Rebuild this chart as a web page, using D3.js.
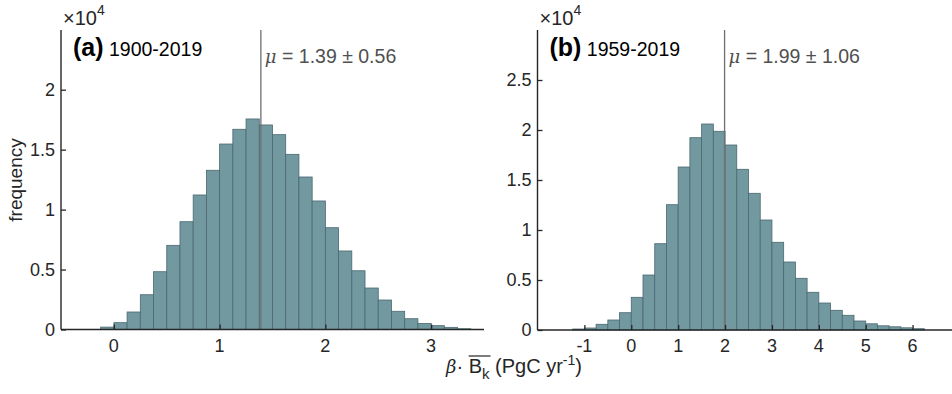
<!DOCTYPE html>
<html>
<head>
<meta charset="utf-8">
<script src="https://cdn.jsdelivr.net/npm/d3@7"></script>
<style>
  body { margin: 0; background: #fff; }
  svg { font-family: "Liberation Sans", Arial, sans-serif; }
</style>
</head>
<body>
<div id="chart"></div>
<script>
var width = 952,
    height = 394;

// panel (a) 1900-2019 : bins of 0.125 starting at -0.125
var binStartA = -0.125, binWidthA = 0.125;
var countsA = [200, 570, 1460, 2900, 4820, 7020, 8990, 11220, 13280, 15470, 16700, 17560,
               17060, 16250, 14610, 12720, 10720, 8490, 6550, 4900, 3460, 2460, 1520, 900,
               510, 320, 180, 60];
var meanA = 1.39, sdA = 0.56;

// panel (b) 1959-2019 : bins of 0.25 starting at -1.25
var binStartB = -1.25, binWidthB = 0.25;
var countsB = [100, 200, 570, 1000, 1730, 3270, 5500, 8630, 12530, 16300, 19230, 20600,
               19870, 18500, 16070, 13670, 11000, 8770, 6800, 5170, 3770, 2700, 1970, 1470,
               900, 620, 420, 320, 220, 130];
var meanB = 1.99, sdB = 1.06;

var xTicksA = [0, 1, 2, 3];
var yTicksA = [0, 5000, 10000, 15000, 20000];
var xTicksB = [-1, 0, 1, 2, 3, 4, 5, 6];
var yTicksB = [0, 5000, 10000, 15000, 20000, 25000];

var barFill = "#7298a0",
    barStroke = "#4b6870",
    axisColor = "#262626";

var svg = d3.select("#chart").append("svg")
    .attr("width", width)
    .attr("height", height);

function toBins(start, w, counts) {
  return counts.map(function(c, i) {
    return {x0: start + i * w, x1: start + (i + 1) * w, n: c};
  });
}

function panel(opts) {
  var x = d3.scaleLinear().domain(opts.xDomain).range(opts.xRange);
  var y = d3.scaleLinear().domain(opts.yDomain).range([opts.base, opts.top]);
  var g = svg.append("g");

  g.selectAll("rect.bar")
      .data(opts.bins)
    .enter().append("rect")
      .attr("class", "bar")
      .attr("x", function(d) { return x(d.x0); })
      .attr("y", function(d) { return y(d.n); })
      .attr("width", function(d) { return x(d.x1) - x(d.x0); })
      .attr("height", function(d) { return y(0) - y(d.n); })
      .attr("fill", barFill)
      .attr("stroke", barStroke)
      .attr("stroke-width", 0.8);

  // mean line
  g.append("line")
      .attr("x1", x(opts.mean)).attr("x2", x(opts.mean))
      .attr("y1", opts.top).attr("y2", opts.base)
      .attr("stroke", "#707070")
      .attr("stroke-width", 1.3);

  // axes, ticks pointing inwards like matlab
  var xAxis = d3.axisTop(x).tickValues(opts.xTicks).tickSize(5).tickFormat("");
  var gx = g.append("g")
      .attr("transform", "translate(0," + opts.base + ")")
      .call(xAxis);
  gx.select(".domain").remove();
  g.append("line")
      .attr("x1", opts.xRange[0]).attr("x2", opts.xRange[1])
      .attr("y1", opts.base).attr("y2", opts.base)
      .attr("stroke", axisColor).attr("stroke-width", 1.4);

  g.selectAll("text.xtick")
      .data(opts.xTicks)
    .enter().append("text")
      .attr("class", "xtick")
      .attr("x", function(d) { return x(d); })
      .attr("y", opts.base + 22)
      .attr("text-anchor", "middle")
      .attr("font-size", 18)
      .attr("fill", axisColor)
      .text(function(d) { return d; });

  var yAxis = d3.axisRight(y).tickValues(opts.yTicks).tickSize(5).tickFormat("");
  var gy = g.append("g")
      .attr("transform", "translate(" + opts.xRange[0] + ",0)")
      .call(yAxis);
  gy.select(".domain").remove();
  g.selectAll(".tick line").attr("stroke", axisColor).attr("stroke-width", 1.3);
  g.append("line")
      .attr("x1", opts.xRange[0]).attr("x2", opts.xRange[0])
      .attr("y1", opts.top).attr("y2", opts.base)
      .attr("stroke", axisColor).attr("stroke-width", 1.4);

  g.selectAll("text.ytick")
      .data(opts.yTicks)
    .enter().append("text")
      .attr("class", "ytick")
      .attr("x", opts.xRange[0] - 6)
      .attr("y", function(d) { return y(d); })
      .attr("dy", "0.36em")
      .attr("text-anchor", "end")
      .attr("font-size", 18)
      .attr("fill", axisColor)
      .text(function(d) { return d / 1e4; });

  // x10^4 exponent
  var ex = g.append("text")
      .attr("x", opts.xRange[0] + 2)
      .attr("y", 25)
      .attr("font-size", 20)
      .attr("fill", axisColor);
  ex.append("tspan").text("\u00d710");
  ex.append("tspan").attr("font-size", 14).attr("dy", -10).text("4");

  // panel label
  var lab = g.append("text")
      .attr("x", opts.xRange[0] + 12)
      .attr("y", 56)
      .attr("fill", "#000");
  lab.append("tspan").attr("font-weight", "bold").attr("font-size", 25).text(opts.letter);
  lab.append("tspan").attr("font-size", 19.5).text(" " + opts.period);

  // mean text
  var mt = g.append("text")
      .attr("x", x(opts.mean) + 4)
      .attr("y", 63)
      .attr("font-size", 19.5)
      .attr("fill", "#505050");
  mt.append("tspan").attr("font-style", "italic").attr("font-family", "DejaVu Serif, serif").attr("font-size", 18).text("\u03bc");
  mt.append("tspan").text(" = " + opts.mean.toFixed(2) + " \u00b1 " + opts.sd.toFixed(2));
}

panel({
  bins: toBins(binStartA, binWidthA, countsA),
  xDomain: [-0.5, 3.5], xRange: [61, 484],
  yDomain: [0, 24980], base: 329.5, top: 30,
  xTicks: xTicksA, yTicks: yTicksA,
  mean: meanA, sd: sdA, letter: "(a)", period: "1900-2019"
});

panel({
  bins: toBins(binStartB, binWidthB, countsB),
  xDomain: [-2, 7], xRange: [537.5, 959.5],
  yDomain: [0, 30000], base: 330, top: 30,
  xTicks: xTicksB, yTicks: yTicksB,
  mean: meanB, sd: sdB, letter: "(b)", period: "1959-2019"
});

// y label
svg.append("text")
    .attr("transform", "translate(22,180) rotate(-90)")
    .attr("text-anchor", "middle")
    .attr("font-size", 19)
    .attr("fill", "#262626")
    .text("frequency");

// x label : beta . overline(B_k) (PgC yr^-1)
var xl = svg.append("text")
    .attr("x", 446)
    .attr("y", 373)
    .attr("font-size", 20)
    .attr("fill", "#262626");
xl.append("tspan").attr("font-style", "italic").attr("font-family", "DejaVu Serif, serif").attr("font-size", 18).text("\u03b2");
xl.append("tspan").text("\u00b7 ");
xl.append("tspan").text("B");
xl.append("tspan").attr("font-size", 15).attr("dy", 6).text("k");
xl.append("tspan").attr("dy", -6).text(" (PgC yr");
xl.append("tspan").attr("font-size", 14).attr("dy", -8).text("-1");
xl.append("tspan").attr("dy", 8).text(")");

// overline over B and k
var node = xl.node();
var bIdx = 3, kIdx = 4;
var eB = node.getExtentOfChar(bIdx), eK = node.getExtentOfChar(kIdx);
svg.append("line")
    .attr("x1", eB.x).attr("x2", eK.x + eK.width + 1)
    .attr("y1", eB.y + 1).attr("y2", eB.y + 1)
    .attr("stroke", "#262626")
    .attr("stroke-width", 1.2);
</script>
</body>
</html>
